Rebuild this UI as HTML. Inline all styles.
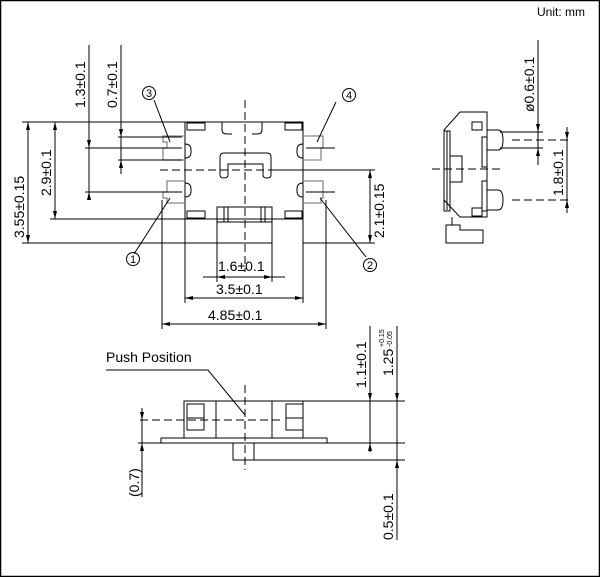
<!DOCTYPE html>
<html><head><meta charset="utf-8"><style>
body{margin:0;background:#fff}
svg{display:block}
text{font-family:"Liberation Sans",sans-serif;fill:#000}
</style></head><body>
<svg width="600" height="577" viewBox="0 0 600 577" xmlns="http://www.w3.org/2000/svg">
<rect x="0.5" y="0.5" width="599" height="576" fill="#fff" stroke="#000" stroke-width="1.5"/>
<text x="537" y="16" font-size="12">Unit: mm</text>
<g stroke="#000" stroke-width="1" fill="none">
<!-- top view body -->
<rect x="185" y="122" width="118" height="97"/>
<!-- pads -->
<g stroke="#888" stroke-width="1.3">
<path d="M185 136 H163 V142 H167 V148 H163 V160 H185"/>
<path d="M185 181 H167 V192 H163 V198 H167 V203 H185"/>
<path d="M303 136 H323 V148 H321 V160 H303"/>
<path d="M303 181 H323 V198 H321 V203 H303"/>
</g>
<!-- corner tabs -->
<rect x="187" y="123" width="18" height="7"/><rect x="285" y="123" width="17" height="7"/>
<rect x="187" y="211" width="18" height="7"/><rect x="285" y="211" width="17" height="7"/>
<path d="M222 122 v8 q0 4 5 4 h5"/><path d="M262 122 v8 q0 4 -5 4 h-5"/>
<path d="M185 144 q6 0 6 6 v2 q0 6 -6 6"/><path d="M185 183 q6 0 6 6 v2 q0 6 -6 6"/>
<path d="M303 144 q-6 0 -6 6 v2 q0 6 6 6"/><path d="M303 183 q-6 0 -6 6 v2 q0 6 6 6"/>
<path d="M220 175 V157 q0-4 4-4 h43 q4 0 4 4 V175 q0 3 -4 3 q-4 0 -4 -3 V164 H228 V175 q0 3 -4 3 q-4 0 -4 -3z"/>
<!-- actuator -->
<rect x="217" y="207" width="55" height="36"/>
<line x1="217" y1="222" x2="272" y2="222"/>
<line x1="224" y1="207" x2="224" y2="222"/><line x1="228" y1="207" x2="228" y2="222"/>
<line x1="261" y1="207" x2="261" y2="222"/><line x1="265" y1="207" x2="265" y2="222"/>
<!-- dimension lines top view -->
<line x1="22" y1="122" x2="185" y2="122"/><line x1="22" y1="243" x2="217" y2="243"/>
<line x1="28" y1="122" x2="28" y2="243"/>
<line x1="50" y1="219" x2="185" y2="219"/><line x1="55" y1="122" x2="55" y2="219"/>
<line x1="89" y1="45" x2="89" y2="198"/><line x1="85" y1="148" x2="182" y2="148"/><line x1="85" y1="192" x2="182" y2="192"/>
<line x1="121" y1="45" x2="121" y2="174"/><line x1="118" y1="137" x2="182" y2="137"/><line x1="118" y1="160" x2="182" y2="160"/>
<line x1="272" y1="170" x2="375" y2="170"/><line x1="303" y1="243" x2="375" y2="243"/>
<line x1="370" y1="170" x2="370" y2="243"/>
<line x1="306" y1="148" x2="335" y2="148"/><line x1="306" y1="192" x2="335" y2="192"/>
<line x1="217" y1="243" x2="217" y2="282"/><line x1="272" y1="243" x2="272" y2="282"/>
<line x1="203" y1="277" x2="285" y2="277"/>
<line x1="185" y1="219" x2="185" y2="303"/><line x1="303" y1="219" x2="303" y2="303"/>
<line x1="185" y1="298" x2="303" y2="298"/>
<line x1="162" y1="200" x2="162" y2="329"/><line x1="326" y1="200" x2="326" y2="329"/>
<line x1="162" y1="324" x2="326" y2="324"/>
<!-- callouts -->
<line x1="154" y1="100" x2="170" y2="142"/><line x1="336" y1="102" x2="317" y2="142"/>
<line x1="134" y1="254" x2="170" y2="198"/><line x1="366" y1="257" x2="320" y2="198"/>
<circle cx="149" cy="93" r="6.5"/><circle cx="349" cy="95" r="6.5"/>
<circle cx="133" cy="259" r="6.5"/><circle cx="370" cy="265" r="6.5"/>
</g>
<g stroke="#000" stroke-width="1" stroke-dasharray="8,4" fill="none">
<line x1="160" y1="170" x2="335" y2="170"/><line x1="245" y1="100" x2="245" y2="272"/>
<line x1="432" y1="169" x2="500" y2="169"/><line x1="245" y1="385" x2="245" y2="470"/>
<line x1="140" y1="420" x2="280" y2="420"/>
<line x1="512" y1="140" x2="572" y2="140"/><line x1="512" y1="200" x2="572" y2="200"/>
</g>
<g fill="#000">
<polygon points="28,122 26,130 30,130"/><polygon points="28,243 26,235 30,235"/>
<polygon points="55,122 53,130 57,130"/><polygon points="55,219 53,211 57,211"/>
<polygon points="89,148 87,140 91,140"/><polygon points="89,192 87,200 91,200"/>
<polygon points="121,137 119,129 123,129"/><polygon points="121,160 119,168 123,168"/>
<polygon points="370,170 368,178 372,178"/><polygon points="370,243 368,235 372,235"/>
<polygon points="217,277 225,275 225,279"/><polygon points="272,277 264,275 264,279"/>
<polygon points="185,298 193,296 193,300"/><polygon points="303,298 295,296 295,300"/>
<polygon points="162,324 170,322 170,326"/><polygon points="326,324 318,322 318,326"/>
</g>
<g font-size="14">
<text transform="translate(24,238) rotate(-90)">3.55±0.15</text>
<text transform="translate(51,196) rotate(-90)">2.9±0.1</text>
<text transform="translate(85,108) rotate(-90)">1.3±0.1</text>
<text transform="translate(117,108) rotate(-90)">0.7±0.1</text>
<text transform="translate(384,238) rotate(-90)">2.1±0.15</text>
<text x="218" y="271">1.6±0.1</text>
<text x="216" y="294">3.5±0.1</text>
<text x="208" y="320">4.85±0.1</text>
<text transform="translate(534,112) rotate(-90)">ø0.6±0.1</text>
<text transform="translate(563,196) rotate(-90)">1.8±0.1</text>
<text transform="translate(366,388) rotate(-90)">1.1±0.1</text>
<text transform="translate(393,376) rotate(-90)">1.25</text>
<text transform="translate(139,497) rotate(-90)">(0.7)</text>
<text transform="translate(393,540) rotate(-90)">0.5±0.1</text>
<text x="106" y="362">Push Position</text>
</g>
<g font-size="7"><text transform="translate(384,347) rotate(-90)">+0.15</text><text transform="translate(392,347) rotate(-90)">-0.05</text></g>
<g font-size="11" text-anchor="middle">
<text x="149" y="97">3</text><text x="349" y="99">4</text><text x="133" y="263">1</text><text x="370" y="269">2</text>
</g>
<!-- side view -->
<g stroke="#000" stroke-width="1" fill="none">
<path d="M444 130 L460 112 H487 V217 H460 L444 200 Z"/>
<line x1="447" y1="131" x2="447" y2="210"/>
<rect x="444" y="131" width="6" height="80"/>
<rect x="482" y="137" width="5" height="30"/><rect x="482" y="181" width="5" height="30"/>
<path d="M450 156 H462 V182 H450"/>
<rect x="472" y="122" width="10" height="8"/><rect x="472" y="208" width="10" height="8"/>
<path d="M487 130 H498 q5 0 5 10 q0 10 -5 10 H487"/>
<path d="M487 190 H498 q5 0 5 10 q0 10 -5 10 H487"/>
<path d="M446 225 H460 V230 H483 V243 H446 Z"/>
<line x1="452" y1="217" x2="452" y2="225"/>
<line x1="500" y1="132" x2="543" y2="132"/><line x1="500" y1="148" x2="543" y2="148"/>
<line x1="538" y1="40" x2="538" y2="165"/>
<line x1="567" y1="127" x2="567" y2="213"/>
</g>
<g fill="#000">
<polygon points="538,132 536,124 540,124"/><polygon points="538,148 536,156 540,156"/>
<polygon points="567,140 565,132 569,132"/><polygon points="567,200 565,208 569,208"/>
</g>
<!-- front view -->
<g stroke="#000" stroke-width="1" fill="none">
<path d="M106 370 H208 L245 415"/>
<rect x="184" y="401" width="119" height="37"/>
<rect x="187" y="404" width="17" height="26"/><rect x="286" y="404" width="17" height="26"/>
<line x1="187" y1="418" x2="204" y2="418"/><line x1="286" y1="418" x2="303" y2="418"/>
<line x1="216" y1="401" x2="216" y2="438"/><line x1="272" y1="401" x2="272" y2="438"/>
<rect x="161" y="438" width="166" height="5"/>
<rect x="233" y="443" width="21" height="17"/>
<line x1="303" y1="401" x2="405" y2="401"/>
<line x1="138" y1="443" x2="405" y2="443"/>
<line x1="254" y1="460" x2="405" y2="460"/>
<line x1="142" y1="408" x2="142" y2="497"/>
<line x1="370" y1="326" x2="370" y2="452"/>
<line x1="397" y1="326" x2="397" y2="540"/>
</g>
<g fill="#000">
<polygon points="370,401 368,393 372,393"/><polygon points="370,443 368,451 372,451"/>
<polygon points="397,401 395,393 399,393"/><polygon points="397,460 395,468 399,468"/>
<polygon points="142,420 140,412 144,412"/><polygon points="142,443 140,451 144,451"/>
</g>
</svg>
</body></html>
